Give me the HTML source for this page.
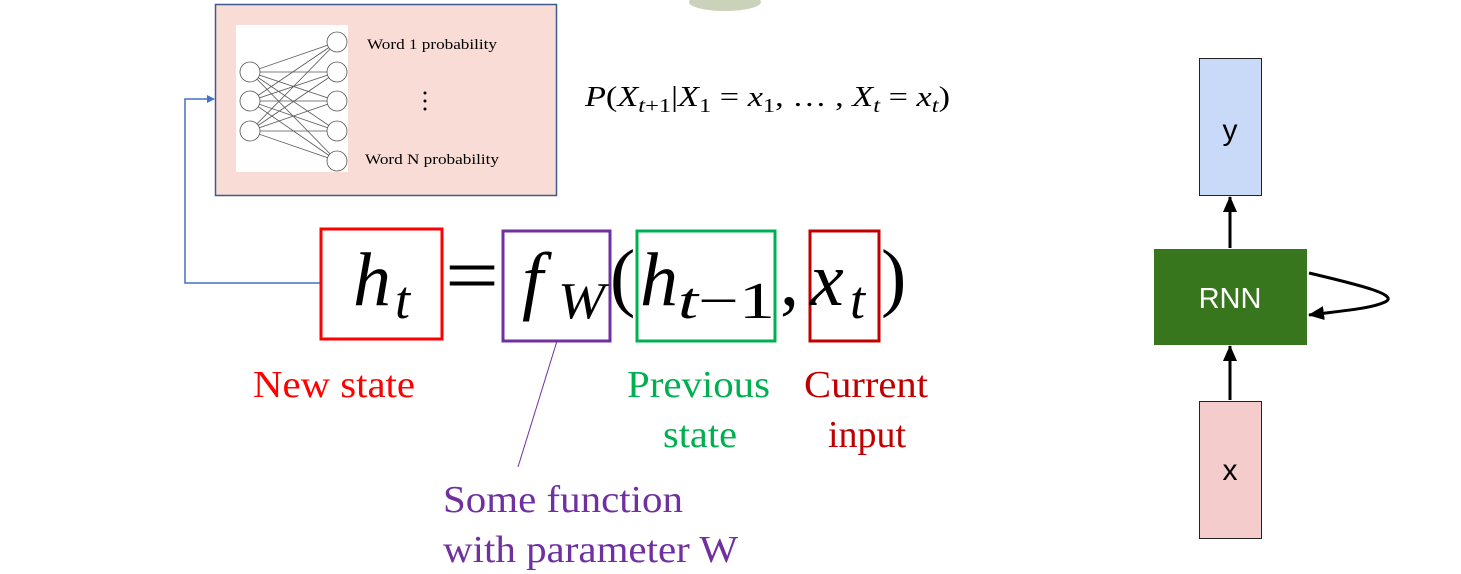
<!DOCTYPE html>
<html><head><meta charset="utf-8"><style>
html,body{margin:0;padding:0;background:#fff;}
svg{display:block;}
</style></head><body>
<svg width="1461" height="574" viewBox="0 0 1461 574" xmlns="http://www.w3.org/2000/svg">
<defs>
<marker id="ab" markerWidth="8" markerHeight="8" refX="7" refY="4" orient="auto" markerUnits="userSpaceOnUse"><path d="M0,0 L8,4 L0,8 z" fill="#4472c4"/></marker>
<marker id="ak" markerWidth="16" markerHeight="16" refX="15" refY="8" orient="auto" markerUnits="userSpaceOnUse"><path d="M0,1 L16,8 L0,15 z" fill="#000"/></marker>
</defs>
<ellipse cx="725" cy="2" rx="36" ry="9" fill="#a9b48c" opacity="0.6"/>
<rect x="215.5" y="4.5" width="341" height="191" fill="#fadcd6" stroke="#3f5a8f" stroke-width="1.5"/>
<rect x="236" y="25" width="112" height="147" fill="#fff"/>
<g stroke="#555" stroke-width="0.8">
<line x1="250" y1="72" x2="337" y2="42"/><line x1="250" y1="72" x2="337" y2="72"/><line x1="250" y1="72" x2="337" y2="101"/><line x1="250" y1="72" x2="337" y2="131"/><line x1="250" y1="72" x2="337" y2="161"/>
<line x1="250" y1="101" x2="337" y2="42"/><line x1="250" y1="101" x2="337" y2="72"/><line x1="250" y1="101" x2="337" y2="101"/><line x1="250" y1="101" x2="337" y2="131"/><line x1="250" y1="101" x2="337" y2="161"/>
<line x1="250" y1="131" x2="337" y2="42"/><line x1="250" y1="131" x2="337" y2="72"/><line x1="250" y1="131" x2="337" y2="101"/><line x1="250" y1="131" x2="337" y2="131"/><line x1="250" y1="131" x2="337" y2="161"/>
</g>
<g fill="#fff" stroke="#555" stroke-width="0.8">
<circle cx="250" cy="72" r="10"/><circle cx="250" cy="101" r="10"/><circle cx="250" cy="131" r="10"/>
<circle cx="337" cy="42" r="10"/><circle cx="337" cy="72" r="10"/><circle cx="337" cy="101" r="10"/><circle cx="337" cy="131" r="10"/><circle cx="337" cy="161" r="10"/>
</g>
<g font-family="Liberation Serif, serif" font-size="15" fill="#000">
<text x="367" y="49" textLength="130" lengthAdjust="spacingAndGlyphs">Word 1 probability</text>
<text x="365" y="164" textLength="134" lengthAdjust="spacingAndGlyphs">Word N probability</text>
<circle cx="425" cy="93" r="1.5"/><circle cx="425" cy="101" r="1.5"/><circle cx="425" cy="109" r="1.5"/>
</g>
<text x="585" y="106" font-family="Liberation Serif, serif" font-size="28" fill="#000" textLength="365" lengthAdjust="spacingAndGlyphs"><tspan font-style="italic">P</tspan>(<tspan font-style="italic">X</tspan><tspan font-style="italic" font-size="20" dy="6">t</tspan><tspan font-size="20">+1</tspan><tspan dy="-6">|</tspan><tspan font-style="italic">X</tspan><tspan font-size="20" dy="6">1</tspan><tspan dy="-6"> = </tspan><tspan font-style="italic">x</tspan><tspan font-size="20" dy="6">1</tspan><tspan dy="-6">, … , </tspan><tspan font-style="italic">X</tspan><tspan font-style="italic" font-size="20" dy="6">t</tspan><tspan dy="-6"> = </tspan><tspan font-style="italic">x</tspan><tspan font-style="italic" font-size="20" dy="6">t</tspan><tspan dy="-6">)</tspan></text>
<polyline points="320,283 185,283 185,99 214,99" fill="none" stroke="#4472c4" stroke-width="1.5" marker-end="url(#ab)"/>
<rect x="321" y="229" width="121" height="110" fill="none" stroke="#ff0000" stroke-width="3"/>
<rect x="503" y="231" width="107" height="110" fill="none" stroke="#7030a0" stroke-width="3"/>
<rect x="637" y="231" width="138" height="110" fill="none" stroke="#00b050" stroke-width="3"/>
<rect x="810" y="231" width="69" height="110" fill="none" stroke="#c00000" stroke-width="3"/>
<g font-family="Liberation Serif, serif" fill="#000">
<text x="353" y="305" font-size="76" font-style="italic">h</text>
<text x="395" y="318" font-size="54" font-style="italic">t</text>
<text x="445" y="302" font-size="80" textLength="54" lengthAdjust="spacingAndGlyphs">=</text>
<text x="522" y="305" font-size="76" font-style="italic">f</text>
<text x="558" y="318" font-size="52" font-style="italic" textLength="47" lengthAdjust="spacingAndGlyphs">W</text>
<text x="610" y="302" font-size="76">(</text>
<text x="640" y="305" font-size="76" font-style="italic">h</text>
<text x="678" y="318" font-size="52" textLength="97" lengthAdjust="spacingAndGlyphs"><tspan font-style="italic">t</tspan>−1</text>
<text x="780" y="305" font-size="76">,</text>
<text x="810" y="305" font-size="76" font-style="italic">x</text>
<text x="850" y="318" font-size="54" font-style="italic">t</text>
<text x="881" y="302" font-size="76">)</text>
</g>
<line x1="557" y1="341" x2="518" y2="467" stroke="#7030a0" stroke-width="1"/>
<g font-family="Liberation Serif, serif" font-size="38">
<text x="253" y="397" fill="#ff0000" textLength="162" lengthAdjust="spacingAndGlyphs">New state</text>
<text x="627" y="397" fill="#00b050" textLength="143" lengthAdjust="spacingAndGlyphs">Previous</text>
<text x="663" y="447" fill="#00b050" textLength="74" lengthAdjust="spacingAndGlyphs">state</text>
<text x="804" y="397" fill="#c00000" textLength="124" lengthAdjust="spacingAndGlyphs">Current</text>
<text x="828" y="447" fill="#c00000" textLength="78" lengthAdjust="spacingAndGlyphs">input</text>
<text x="443" y="512" fill="#7030a0" textLength="240" lengthAdjust="spacingAndGlyphs">Some function</text>
<text x="443" y="562" fill="#7030a0" textLength="295" lengthAdjust="spacingAndGlyphs">with parameter W</text>
</g>
<rect x="1199.5" y="58.5" width="62" height="137" fill="#c9daf8" stroke="#222" stroke-width="1"/>
<text x="1230" y="140" font-family="Liberation Sans, sans-serif" font-size="30" text-anchor="middle">y</text>
<rect x="1154" y="249" width="153" height="96" fill="#38761d"/>
<text x="1230" y="308" font-family="Liberation Sans, sans-serif" font-size="29" fill="#fff" text-anchor="middle">RNN</text>
<rect x="1199.5" y="401.5" width="62" height="137" fill="#f4cccc" stroke="#222" stroke-width="1"/>
<text x="1230" y="480" font-family="Liberation Sans, sans-serif" font-size="30" text-anchor="middle">x</text>
<line x1="1230" y1="248" x2="1230" y2="197" stroke="#000" stroke-width="3" marker-end="url(#ak)"/>
<line x1="1230" y1="400" x2="1230" y2="346" stroke="#000" stroke-width="3" marker-end="url(#ak)"/>
<path d="M1309,273 C1360,285 1400,295 1385,302 C1370,309 1340,311 1309,315" fill="none" stroke="#000" stroke-width="3" marker-end="url(#ak)"/>
</svg>
</body></html>
